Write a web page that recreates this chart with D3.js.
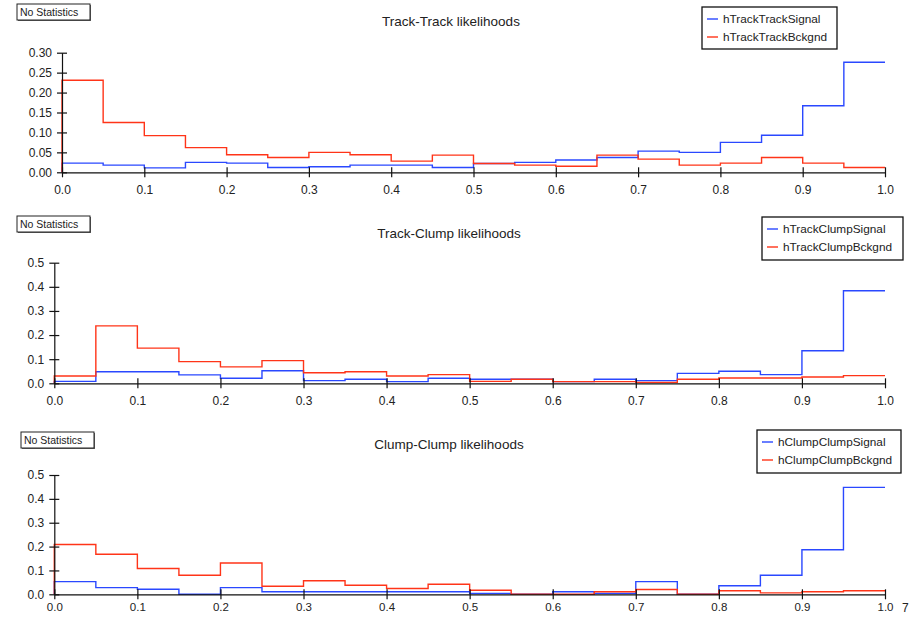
<!DOCTYPE html>
<html>
<head>
<meta charset="utf-8">
<script src="https://cdn.jsdelivr.net/npm/d3@7"></script>
<style>
  html, body { margin: 0; padding: 0; background: #fff; }
  svg { display: block; font-family: "Liberation Sans", Arial, sans-serif; }
</style>
</head>
<body>
<svg id="chart" width="911" height="617"></svg>
<script>
// Bin edges: 20 bins of width 0.05 over [0, 1]
const binEdges = d3.range(0, 21).map(i => i * 0.05);
const xTicks = [0, 0.1, 0.2, 0.3, 0.4, 0.5, 0.6, 0.7, 0.8, 0.9, 1.0];

const titles = ["Track-Track likelihoods", "Track-Clump likelihoods", "Clump-Clump likelihoods"];
const signalNames = ["hTrackTrackSignal", "hTrackClumpSignal", "hClumpClumpSignal"];
const bckgndNames = ["hTrackTrackBckgnd", "hTrackClumpBckgnd", "hClumpClumpBckgnd"];

// Normalised bin contents
const trackTrackSignal = [0.023, 0.018, 0.011, 0.025, 0.023, 0.012, 0.014, 0.018, 0.018, 0.012,
                          0.022, 0.025, 0.031, 0.037, 0.053, 0.050, 0.075, 0.093, 0.167, 0.276];
const trackTrackBckgnd = [0.231, 0.125, 0.092, 0.062, 0.044, 0.037, 0.050, 0.044, 0.028, 0.043,
                          0.022, 0.018, 0.015, 0.043, 0.033, 0.018, 0.023, 0.037, 0.023, 0.012];

const trackClumpSignal = [0.008, 0.048, 0.048, 0.035, 0.021, 0.052, 0.011, 0.017, 0.007, 0.021,
                          0.017, 0.017, 0.007, 0.017, 0.011, 0.041, 0.050, 0.036, 0.135, 0.384];
const trackClumpBckgnd = [0.030, 0.238, 0.146, 0.090, 0.068, 0.094, 0.044, 0.048, 0.030, 0.036,
                          0.008, 0.017, 0.007, 0.007, 0.004, 0.017, 0.022, 0.022, 0.026, 0.032];

const clumpClumpSignal = [0.053, 0.028, 0.021, 0.000, 0.028, 0.011, 0.011, 0.011, 0.011, 0.011,
                          0.004, 0.000, 0.011, 0.004, 0.053, 0.000, 0.036, 0.080, 0.187, 0.448];
const clumpClumpBckgnd = [0.209, 0.168, 0.108, 0.080, 0.131, 0.034, 0.057, 0.038, 0.024, 0.042,
                          0.017, 0.000, 0.000, 0.011, 0.020, 0.000, 0.015, 0.006, 0.011, 0.015];

const yTicks1 = [0, 0.05, 0.10, 0.15, 0.20, 0.25, 0.30];
const yTicks23 = [0, 0.1, 0.2, 0.3, 0.4, 0.5];

const signalColor = "#2a48ff";
const bckgndColor = "#ff3418";

const panels = [
  { title: titles[0], sig: trackTrackSignal, bkg: trackTrackBckgnd, sigName: signalNames[0], bkgName: bckgndNames[0],
    yTicks: yTicks1, yMax: 0.30, fmt: ".2f",
    left: 62, right: 885, bottom: 172.3, top: 52.7, xPad: 8, xFont: 12,
    titleX: 451, titleY: 25.5, stat: [17, 4, 73, 16],
    legend: [702, 7, 135, 42] },
  { title: titles[1], sig: trackClumpSignal, bkg: trackClumpBckgnd, sigName: signalNames[1], bkgName: bckgndNames[1],
    yTicks: yTicks23, yMax: 0.5, fmt: ".1f",
    left: 54.3, right: 885, bottom: 383.3, top: 262.7, xPad: 8, xFont: 12,
    titleX: 449, titleY: 237.5, stat: [17, 216, 73, 16],
    legend: [762, 217, 141, 43] },
  { title: titles[2], sig: clumpClumpSignal, bkg: clumpClumpBckgnd, sigName: signalNames[2], bkgName: bckgndNames[2],
    yTicks: yTicks23, yMax: 0.5, fmt: ".1f",
    left: 54.3, right: 885, bottom: 594.3, top: 475, xPad: 4, xFont: 11.5,
    titleX: 449, titleY: 448.5, stat: [21, 432, 73, 16],
    legend: [757, 430, 144, 43] }
];

const svg = d3.select("#chart");

// Step outline of a histogram: rises from zero at the first edge, no drop at the last edge
function stepPoints(values) {
  const pts = [[binEdges[0], 0]];
  values.forEach((v, i) => {
    pts.push([binEdges[i], v]);
    pts.push([binEdges[i + 1], v]);
  });
  return pts;
}

panels.forEach(p => {
  const g = svg.append("g");
  const x = d3.scaleLinear().domain([0, 1]).range([p.left, p.right]);
  const y = d3.scaleLinear().domain([0, p.yMax]).range([p.bottom, p.top]);

  // "No Statistics" box
  const [sx, sy, sw, sh] = p.stat;
  g.append("rect").attr("x", sx + 1).attr("y", sy + 1).attr("width", sw).attr("height", sh)
    .attr("fill", "#666");
  g.append("rect").attr("x", sx).attr("y", sy).attr("width", sw).attr("height", sh)
    .attr("fill", "#fff").attr("stroke", "#222").attr("stroke-width", 1);
  g.append("text").attr("x", sx + 3).attr("y", sy + sh / 2 + 3.6)
    .attr("font-size", 10.5).attr("fill", "#222").text("No Statistics");

  // Title
  g.append("text").attr("x", p.titleX).attr("y", p.titleY).attr("text-anchor", "middle")
    .attr("font-size", 13.5).attr("fill", "#222").text(p.title);

  // Histograms
  const line = d3.line().x(d => x(d[0])).y(d => y(d[1]));
  g.append("path").datum(stepPoints(p.sig)).attr("d", line)
    .attr("fill", "none").attr("stroke", signalColor).attr("stroke-width", 1.4);
  g.append("path").datum(stepPoints(p.bkg)).attr("d", line)
    .attr("fill", "none").attr("stroke", bckgndColor).attr("stroke-width", 1.4);

  // Axes with ticks crossing the axis lines
  const yAxis = d3.axisLeft(y).tickValues(p.yTicks).tickFormat(d3.format(p.fmt))
    .tickSizeInner(5).tickSizeOuter(0).tickPadding(5);
  const ya = g.append("g").attr("transform", `translate(${p.left},0)`).call(yAxis);
  ya.selectAll(".tick line").attr("x1", 5).attr("x2", -5);

  const xAxis = d3.axisBottom(x).tickValues(xTicks).tickFormat(d3.format(".1f"))
    .tickSizeInner(5).tickSizeOuter(0).tickPadding(p.xPad);
  const xa = g.append("g").attr("transform", `translate(0,${p.bottom})`).call(xAxis);
  xa.selectAll(".tick line").attr("y1", -5).attr("y2", 5);

  [ya, xa].forEach(a => {
    a.select(".domain").attr("stroke", "#111").attr("stroke-width", 1.2);
    a.selectAll(".tick line").attr("stroke", "#111").attr("stroke-width", 1.2);
    a.selectAll(".tick text").attr("font-size", 12).attr("fill", "#222")
      .attr("font-family", "Liberation Sans, Arial, sans-serif");
  });
  xa.selectAll(".tick text").attr("font-size", p.xFont);

  // Legend
  const [lx, ly, lw, lh] = p.legend;
  const lg = g.append("g");
  lg.append("rect").attr("x", lx).attr("y", ly).attr("width", lw).attr("height", lh)
    .attr("fill", "#fff").attr("stroke", "#111").attr("stroke-width", 1.3);
  [[p.sigName, signalColor], [p.bkgName, bckgndColor]].forEach(([name, col], i) => {
    const ry = ly + 12 + i * 18;
    lg.append("line").attr("x1", lx + 5).attr("x2", lx + 16).attr("y1", ry).attr("y2", ry)
      .attr("stroke", col).attr("stroke-width", 1.4);
    lg.append("text").attr("x", lx + 21).attr("y", ry + 4).attr("font-size", 11.8)
      .attr("fill", "#222").text(name);
  });
});

// Page number at the lower right edge
svg.append("text").attr("x", 902).attr("y", 612).attr("font-size", 12).attr("fill", "#222").text("7");
</script>
</body>
</html>
